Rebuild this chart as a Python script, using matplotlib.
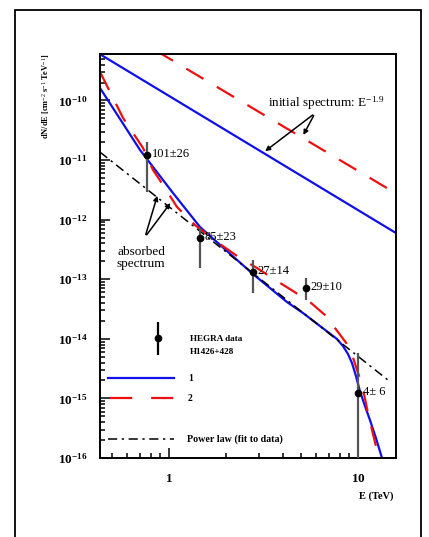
import matplotlib.pyplot as plt
import numpy as np
from matplotlib.patches import Rectangle
from matplotlib.ticker import FuncFormatter, LogLocator, NullFormatter

plt.rcParams['font.family'] = ['Liberation Serif', 'DejaVu Serif']
plt.rcParams['mathtext.fontset'] = 'custom'
plt.rcParams['mathtext.rm'] = 'Liberation Serif'
plt.rcParams['mathtext.bf'] = 'Liberation Serif:bold'
plt.rcParams['mathtext.it'] = 'Liberation Serif:italic'

# HEGRA data points (H1426+428)
data_E = [0.765, 1.46, 2.78, 5.31, 10.0]
data_F = [1.21e-11, 4.9e-13, 1.32e-13, 7.1e-14, 1.23e-15]
data_F_hi = [2.0e-11, 7.2e-13, 2.1e-13, 1.05e-13, 5.7e-15]
data_F_lo = [2.9e-12, 1.55e-13, 5.9e-14, 4.5e-14, 1e-18]
data_labels = ['101\u00b126', '85\u00b123', '27\u00b114', '29\u00b110', '4\u00b1 6']

# initial spectra (straight lines in log-log)
init1_E = [0.43, 15.9]
init1_F = [6.0e-10, 5.96e-13]
init2_E = [0.85, 15.9]
init2_F = [6.9e-10, 2.75e-12]

# absorbed spectrum, model 1
abs1_E = [0.4314, 0.7024, 1.050, 1.459, 2.027, 2.783, 4.211, 5.117, 6.295,
          7.743, 8.330, 8.853, 9.295, 9.759, 10.24, 10.89, 11.57, 12.45, 13.40]
abs1_F = [1.614e-10, 1.472e-11, 2.79e-12, 7.52e-13, 2.97e-13, 1.22e-13,
          4.14e-14, 2.71e-14, 1.64e-14, 9.93e-15, 7.57e-15, 5.56e-15,
          3.93e-15, 2.38e-15, 1.33e-15, 7.44e-16, 4.35e-16, 2.17e-16, 1.0e-16]

# absorbed spectrum, model 2
abs2_E = [0.4314, 0.571, 0.7285, 0.8229, 0.9295, 1.102, 1.373, 1.795, 2.375,
          2.922, 3.728, 4.530, 5.572, 6.690, 7.839, 9.073, 9.879, 10.50,
          11.29, 12.15, 12.91]
abs2_F = [3.0e-10, 5.07e-11, 1.59e-11, 6.79e-12, 3.81e-12, 1.63e-12, 8.1e-13,
          4.21e-13, 2.27e-13, 1.54e-13, 9.33e-14, 6.34e-14, 4.14e-14,
          2.51e-14, 1.30e-14, 7.02e-15, 3.00e-15, 1.75e-15, 5.69e-16,
          2.17e-16, 1.0e-16]

# power law fit to data
pl_E = [0.431, 14.4]
pl_F = [1.36e-11, 2.04e-15]

BLUE = '#1010e8'
RED = '#ee1010'

fig = plt.figure(figsize=(4.29, 5.37), dpi=100)
fig.patches.append(Rectangle((15 / 429, -0.01), 406 / 429, 1 - 10 / 537 + 0.01,
                             transform=fig.transFigure, fill=False,
                             edgecolor='black', lw=1.3))
ax = fig.add_axes([100 / 429, 79 / 537, 296 / 429, 404 / 537])

ax.plot(init1_E, init1_F, color=BLUE, lw=1.6)
ax.plot(init2_E, init2_F, color=RED, lw=1.6, dashes=(9, 7))
ax.plot(abs1_E, abs1_F, color=BLUE, lw=1.6)
ax.plot(abs2_E, abs2_F, color=RED, lw=1.6, dashes=(9, 7))
ax.plot(pl_E, pl_F, color='black', lw=1.1, dashes=(6, 3, 1.5, 3))

E = np.array(data_E)
F = np.array(data_F)
yerr = [F - np.array(data_F_lo), np.array(data_F_hi) - F]
ax.errorbar(E, F, yerr=yerr, fmt='o', color='black', ecolor='#555555',
            ms=4.5, elinewidth=1.6, capsize=0, zorder=5)
for e, f, lab in zip(data_E, data_F, data_labels):
    ax.text(e * 1.06, f * 1.05, lab, fontsize=9, ha='left', va='center')

ax.set_xscale('log')
ax.set_yscale('log')
ax.set_xlim(0.431, 15.9)
ax.set_ylim(1e-16, 10 ** -9.22)

arrow = dict(arrowstyle='-|>', color='black', lw=1.1, mutation_scale=7)
ax.annotate('', xy=(3.14, 1.32e-11), xytext=(5.92, 6.1e-11), arrowprops=arrow)
ax.annotate('', xy=(5.06, 2.4e-11), xytext=(5.92, 6.1e-11), arrowprops=arrow)
ax.text(3.35, 9.0e-11, r'initial spectrum: E$^{-1.9}$', fontsize=9.5,
        ha='left', va='center')

ax.annotate('', xy=(0.875, 2.79e-12), xytext=(0.746, 5.1e-13), arrowprops=arrow)
ax.annotate('', xy=(1.037, 2.07e-12), xytext=(0.746, 5.1e-13), arrowprops=arrow)
ax.text(0.711, 2.27e-13, 'absorbed\nspectrum', fontsize=9.5, ha='center',
        va='center', linespacing=1.0)

# legend drawn by hand
ax.errorbar([0.196], [0.297], yerr=[[0.043], [0.04]], fmt='o', color='black',
            ms=4.5, elinewidth=1.6, capsize=0, transform=ax.transAxes)
ax.text(0.304, 0.295, 'HEGRA data', transform=ax.transAxes, fontsize=6.6,
        fontweight='bold', va='center')
ax.text(0.304, 0.262, 'H1426+428', transform=ax.transAxes, fontsize=6.6,
        fontweight='bold', va='center')
ax.plot([0.027, 0.25], [0.198, 0.198], color=BLUE, lw=1.6,
        transform=ax.transAxes)
ax.text(0.297, 0.198, '1', transform=ax.transAxes, fontsize=7,
        fontweight='bold', va='center')
ax.plot([0.034, 0.25], [0.1485, 0.1485], color=RED, lw=1.6,
        dashes=(10, 8.5), transform=ax.transAxes)
ax.text(0.297, 0.1485, '2', transform=ax.transAxes, fontsize=7,
        fontweight='bold', va='center')
ax.plot([0.027, 0.25], [0.047, 0.047], color='black', lw=1.1,
        dashes=(6, 3, 1.5, 3), transform=ax.transAxes)
ax.text(0.294, 0.047, 'Power law (fit to data)', transform=ax.transAxes,
        fontsize=7.2, fontweight='bold', va='center')

def ylab(v, pos):
    return r'$\mathbf{10^{%d}}$' % int(round(np.log10(v)))

def xlab(v, pos):
    return r'$\mathbf{%d}$' % int(round(v))

ax.yaxis.set_major_locator(LogLocator(base=10, numticks=20))
ax.yaxis.set_minor_locator(LogLocator(base=10, subs=np.arange(2, 10), numticks=20))
ax.yaxis.set_major_formatter(FuncFormatter(ylab))
ax.yaxis.set_minor_formatter(NullFormatter())
ax.xaxis.set_major_formatter(FuncFormatter(xlab))
ax.xaxis.set_minor_formatter(NullFormatter())
ax.tick_params(which='both', direction='in', top=False, right=False, width=1.1)
ax.tick_params(which='major', length=7, labelsize=9.5, pad=9)
ax.tick_params(which='minor', length=3.5)
ax.tick_params(axis='x', which='major', pad=11)
for s in ax.spines.values():
    s.set_linewidth(1.4)

fig.text(46 / 429, 1 - 96 / 537, r'dN/dE [cm$^{-2}$ s$^{-1}$ TeV$^{-1}$]',
         rotation=90, fontsize=6, fontweight='bold', ha='center', va='center')
fig.text(376 / 429, 1 - 496 / 537, 'E (TeV)', fontsize=7.5,
         fontweight='bold', ha='center', va='center')

fig.savefig('out.png', dpi=100)
